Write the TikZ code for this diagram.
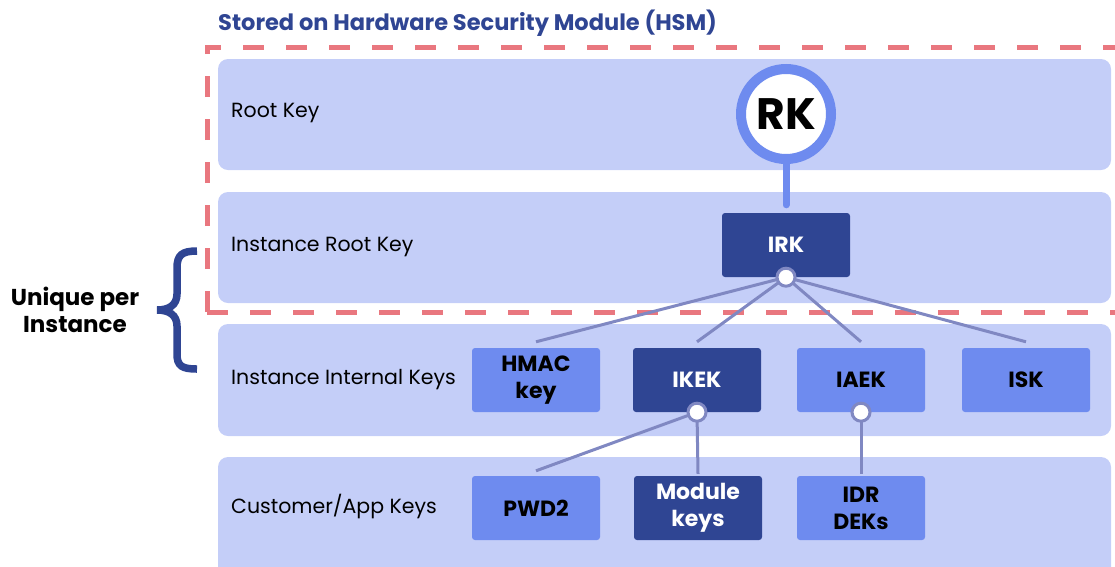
\documentclass[tikz,border=0pt]{standalone}
\usepackage{fontspec}
\setmainfont{Poppins}
\usepackage{tikz}

\definecolor{bandfill}{HTML}{C4CEF8}
\definecolor{keymid}{HTML}{6E8BEF}
\definecolor{keydark}{HTML}{2F4593}
\definecolor{connline}{HTML}{8088C2}
\definecolor{hsmred}{HTML}{E9777F}

\begin{document}
\begin{tikzpicture}[x=1pt,y=-1pt,
  band/.style={fill=bandfill,rounded corners=10pt},
  rowlabel/.style={anchor=west,inner sep=0pt,font=\fontsize{20.5}{24}\selectfont},
  keybox/.style={rounded corners=3pt,minimum width=128pt,minimum height=64pt,inner sep=0pt,
    align=center,font=\fontsize{22}{27}\selectfont\bfseries},
  midkey/.style={keybox,fill=keymid,text=black},
  darkkey/.style={keybox,fill=keydark,text=white},
  conn/.style={connline,line width=3pt},
  dot/.style={circle,draw=connline,fill=white,line width=3pt,minimum size=18pt,inner sep=0pt},
  hsmbox/.style={hsmred,line width=5pt,dash pattern=on 21pt off 22pt}]
  \useasboundingbox (0,0) rectangle (1115,566);
  \fill[band] (218,59) rectangle (1111,170);
  \fill[band] (218,192) rectangle (1111,303);
  \fill[band] (218,324) rectangle (1111,436);
  \fill[band] (218,457) rectangle (1111,580);
  \draw[hsmbox] (207,312) -- (207,47) -- (1120,47);
  \draw[hsmbox] (207,312) -- (1120,312);
  \node[anchor=west,inner sep=0pt,text=keydark,font=\fontsize{22.5}{27}\selectfont\bfseries] (title) at (218,23) {Stored on Hardware Security Module (HSM)};
  \node[rowlabel] (lrk) at (231,113) {Root Key};
  \node[rowlabel] (lirk) at (231,247) {Instance Root Key};
  \node[rowlabel] (lint) at (231,380) {Instance Internal Keys};
  \node[rowlabel] (lcust) at (231,506) {Customer/App Keys};
  \node[align=center,inner sep=0pt,font=\fontsize{23}{27}\selectfont\bfseries] (uniq) at (75,310) {Unique per\\Instance};
  \draw[keydark,line width=7.5pt] (197,251) .. controls (182,251) and (177,255) .. (177,268) -- (177,294)
    .. controls (177,305) and (169,310) .. (157,310) .. controls (169,310) and (177,315) .. (177,326)
    -- (177,354) .. controls (177,366) and (182,369) .. (197,369);
  \node[circle,draw=keymid,fill=white,line width=10pt,minimum size=90pt,inner sep=0pt,
    font=\fontsize{44}{44}\selectfont\bfseries] (rk) at (786,114) {RK};
  \node[darkkey] (irk) at (786,245) {IRK};
  \node[midkey] (hmac) at (536,380) {HMAC\\key};
  \node[darkkey] (ikek) at (697,380) {IKEK};
  \node[midkey] (iaek) at (861,380) {IAEK};
  \node[midkey] (isk) at (1026,380) {ISK};
  \node[midkey] (pwd) at (536,508) {PWD2};
  \node[darkkey] (modkeys) at (698,508) {Module\\keys};
  \node[midkey] (idr) at (861,508) {IDR\\DEKs};
  \draw[keymid,line width=7pt,line cap=round] (rk.south) -- ([yshift=8pt]irk.north);
  \coordinate (hmacin) at ([yshift=6pt]hmac.north);
  \coordinate (ikekin) at ([yshift=6pt]ikek.north);
  \coordinate (iaekin) at ([yshift=6pt]iaek.north);
  \coordinate (iskin) at ([yshift=6pt]isk.north);
  \coordinate (pwdin) at ([yshift=5pt]pwd.north);
  \coordinate (modin) at ([yshift=2pt]modkeys.north);
  \coordinate (idrin) at ([yshift=2pt]idr.north);
  \draw[conn] (irk.south) -- (hmacin);
  \draw[conn] (irk.south) -- (ikekin);
  \draw[conn] (irk.south) -- (iaekin);
  \draw[conn] (irk.south) -- (iskin);
  \draw[conn] (ikek.south) -- (pwdin);
  \draw[conn] (ikek.south) -- (modin);
  \draw[conn] (iaek.south) -- (idrin);
  \node[dot] (irkdot) at (irk.south) {};
  \node[dot] (ikekdot) at (ikek.south) {};
  \node[dot] (iaekdot) at (iaek.south) {};
\end{tikzpicture}
\end{document}
